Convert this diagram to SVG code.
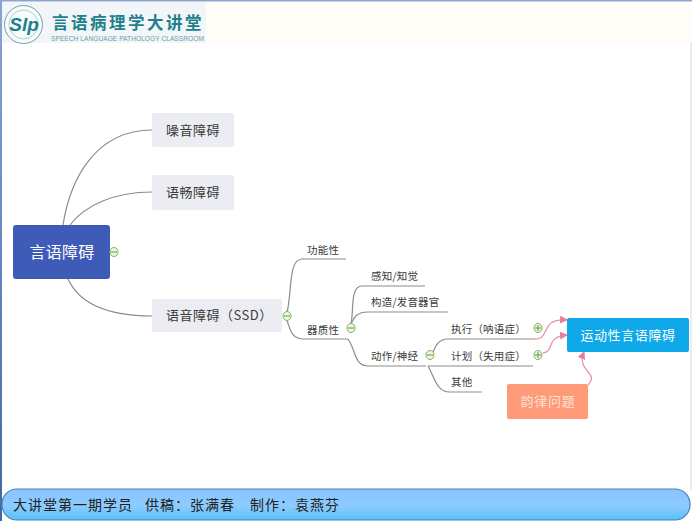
<svg xmlns="http://www.w3.org/2000/svg" width="692" height="521" viewBox="0 0 692 521">
<defs>
<linearGradient id="bar" x1="0" y1="0" x2="0" y2="1"><stop offset="0" stop-color="#8ac4ff"/><stop offset="0.55" stop-color="#8ccbff"/><stop offset="1" stop-color="#58c0f4"/></linearGradient>
<linearGradient id="side" x1="0" y1="0" x2="0" y2="1"><stop offset="0" stop-color="#8aa4d4"/><stop offset="1" stop-color="#3f68a8"/></linearGradient>
<marker id="pink" markerWidth="9" markerHeight="8" refX="7" refY="4" orient="auto" markerUnits="userSpaceOnUse"><path d="M0 0L8 4L0 8Z" fill="#ea7f9c"/></marker>
</defs>
<style>
text{font-family:"Noto Sans CJK SC","Liberation Sans",sans-serif}
.l{font-size:10.5px;fill:#3a3a3a;letter-spacing:.2px}
.n{font-size:13px;fill:#3a3a3a;letter-spacing:.5px}
.box{fill:#ecedf2}
.c{fill:none;stroke:#8c8c8c;stroke-width:1.2}
.p{fill:none;stroke:#ee93aa;stroke-width:1.3}
.t{fill:#eef7e4;stroke:#7fb45c;stroke-width:1}
.m{stroke:#5f9a3c;stroke-width:1}
</style>
<rect width="692" height="521" fill="#fff"/>
<rect x="0" y="0" width="692" height="1.5" fill="#8aa4d4"/>
<rect x="0" y="0" width="2" height="521" fill="url(#side)"/>
<rect x="690" y="42" width="2" height="448" fill="#ececf0"/>
<g id="logo">
<rect x="2" y="2" width="204" height="41" fill="#f2f6f8"/>
<rect x="206" y="2" width="484" height="41" fill="#fffdf5"/>
<circle cx="23.500" cy="24.500" r="19" fill="#f7fbfb" stroke="#6ca5ad" stroke-width="1"/>
<circle cx="23.500" cy="24.500" r="14.500" fill="none" stroke="#9dc3c9" stroke-width="0.8"/>
<text x="24" y="31" font-size="19" font-weight="700" font-style="italic" text-anchor="middle" fill="#1f7f8c" style="font-family:'Liberation Sans',sans-serif">Slp</text>
<text x="52" y="29" font-size="16.500" font-weight="700" fill="#1f7f8c" style="letter-spacing:2.500px">言语病理学大讲堂</text>
<text x="51" y="41" font-size="7" fill="#6f9aa6" textLength="153" lengthAdjust="spacingAndGlyphs" style="font-family:'Liberation Sans',sans-serif">SPEECH LANGUAGE PATHOLOGY CLASSROOM</text>
</g>
<g id="connectors">
<path class="c" d="M63 225C70 180 95 130 152 130"/>
<path class="c" d="M70 225C85 205 115 192 152 192"/>
<path class="c" d="M68 279C80 305 110 316 152 316"/>
<path class="c" d="M287 312C292 295 288 259 302 259H346"/>
<path class="c" d="M287 320C290 330 292 339 304 339H348"/>
<path class="c" d="M351 324C354 310 350 286 362 286H425"/>
<path class="c" d="M351 324C354 318 356 312 368 312H448"/>
<path class="c" d="M348 339C356 350 354 366 368 366H426"/>
<path class="c" d="M430 360C434 350 436 339 448 339H533"/>
<path class="c" d="M428 366H533"/>
<path class="c" d="M428 366C434 376 436 392 450 392H482"/>
<path class="p" marker-end="url(#pink)" d="M533 339C552 341 538 318 567 320"/>
<path class="p" marker-end="url(#pink)" d="M543 353C556 351 544 337 567 335"/>
<path class="p" marker-end="url(#pink)" d="M588 385C600 372 576 372 584 352"/>
</g>
<g id="n-root"><rect x="13" y="225" width="97" height="54" rx="3" fill="#3f5bb8"/><text x="62" y="258" font-size="16" text-anchor="middle" fill="#fff" style="letter-spacing:.3px">言语障碍</text>
<ellipse class="t" cx="114" cy="252" rx="4" ry="4.500"/><path class="m" d="M111 252H117"/></g>
<g id="n-noise"><rect class="box" x="152" y="113" width="82" height="34" rx="2"/><text class="n" x="166" y="135">噪音障碍</text></g>
<g id="n-fluency"><rect class="box" x="152" y="175" width="82" height="35" rx="2"/><text class="n" x="166" y="197">语畅障碍</text></g>
<g id="n-ssd"><rect class="box" x="152" y="299" width="130" height="33" rx="2"/><text class="n" x="166" y="320">语音障碍（SSD）</text>
<ellipse class="t" cx="287" cy="316" rx="4" ry="4.500"/><path class="m" d="M284 316H290"/></g>
<g id="n-func"><text class="l" x="307" y="254">功能性</text></g>
<g id="n-organ"><text class="l" x="307" y="334">器质性</text>
<ellipse class="t" cx="351" cy="328" rx="4" ry="4.500"/><path class="m" d="M348 328H354"/></g>
<g id="n-percept"><text class="l" x="371" y="280">感知/知觉</text></g>
<g id="n-struct"><text class="l" x="371" y="306">构造/发音器官</text></g>
<g id="n-motor"><text class="l" x="371" y="360">动作/神经</text>
<ellipse class="t" cx="430" cy="355" rx="4" ry="4.500"/><path class="m" d="M427 355H433"/></g>
<g id="n-exec"><text class="l" x="451" y="333">执行（呐语症）</text>
<ellipse class="t" cx="538" cy="328" rx="4" ry="4.500"/><path class="m" d="M535 328H541M538 325V331"/></g>
<g id="n-plan"><text class="l" x="451" y="360">计划（失用症）</text>
<ellipse class="t" cx="538" cy="355" rx="4" ry="4.500"/><path class="m" d="M535 355H541M538 352V358"/></g>
<g id="n-other"><text class="l" x="451" y="386">其他</text></g>
<g id="n-msd"><rect x="567" y="318" width="122" height="34" rx="2" fill="#0fa8e8"/><text x="628" y="340" font-size="13" text-anchor="middle" fill="#fff" style="letter-spacing:.6px">运动性言语障碍</text></g>
<g id="n-prosody"><rect x="507" y="384" width="81" height="35" rx="2" fill="#ff9a78"/><text x="548" y="406" font-size="13" text-anchor="middle" fill="#fbe3d6" style="letter-spacing:.7px">韵律问题</text></g>
<g id="footer"><rect x="2" y="489" width="688" height="31" rx="15" fill="url(#bar)" stroke="#4c7fb4" stroke-width="1.2"/><text y="510" font-size="14" fill="#222" style="letter-spacing:1px"><tspan x="13">大讲堂第一期学员 </tspan><tspan x="145">供稿：张满春 </tspan><tspan x="250">制作：袁燕芬</tspan></text></g>
</svg>
